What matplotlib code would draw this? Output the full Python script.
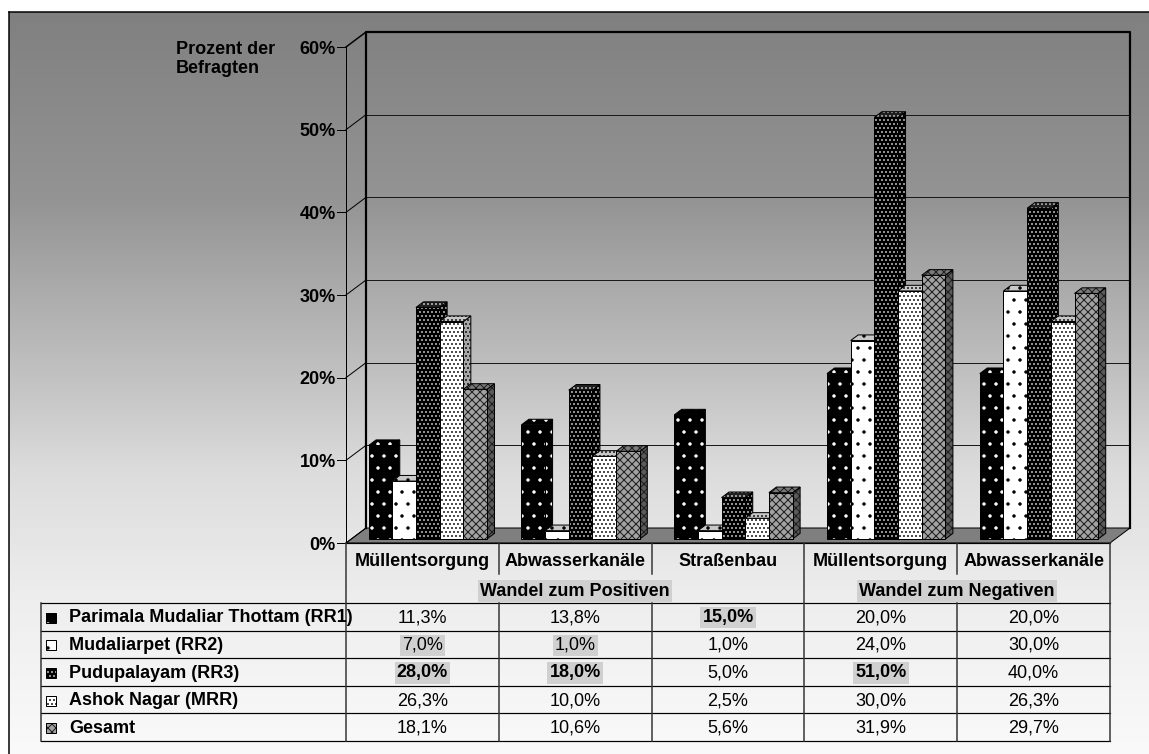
import numpy as np
import matplotlib
matplotlib.use("Agg")
import matplotlib.pyplot as plt
from matplotlib.patches import Polygon

# ---- data -----------------------------------------------------------------
categories = ["Müllentsorgung", "Abwasserkanäle", "Straßenbau",
              "Müllentsorgung", "Abwasserkanäle"]
groups = ["Wandel zum Positiven", "Wandel zum Negativen"]
group_sizes = [3, 2]
series_names = ["Parimala Mudaliar Thottam (RR1)", "Mudaliarpet (RR2)",
                "Pudupalayam (RR3)", "Ashok Nagar (MRR)", "Gesamt"]
rr1 = [11.3, 13.8, 15.0, 20.0, 20.0]
rr2 = [7.0, 1.0, 1.0, 24.0, 30.0]
rr3 = [28.0, 18.0, 5.0, 51.0, 40.0]
mrr = [26.3, 10.0, 2.5, 30.0, 26.3]
gesamt = [18.1, 10.6, 5.6, 31.9, 29.7]
y_ticks = [0, 10, 20, 30, 40, 50, 60]
y_title = "Prozent der\nBefragten"

# emphasis of single cells in the data table (row, column)
bold_cells = [(0, 2), (2, 0), (2, 1), (2, 3)]
shaded_cells = [(0, 2), (1, 0), (1, 1), (2, 0), (2, 1), (2, 3)]

series = [rr1, rr2, rr3, mrr, gesamt]

# ---- styles ---------------------------------------------------------------
styles = [
    dict(fc="black", hatch=".", hc="white", top="black", side="black"),
    dict(fc="white", hatch=".", hc="black", top="#c8c8c8", side="#a8a8a8"),
    dict(fc="black", hatch="...", hc="#d0d0d0", top="#202020", side="black"),
    dict(fc="white", hatch="...", hc="black", top="#c8c8c8", side="#a8a8a8"),
    dict(fc="#a2a2a2", hatch="xxx", hc="#1e1e1e", top="#7a7a7a",
         side="#5a5a5a"),
]

W, H, DPI = 1149, 754, 72
FS = 18
plt.rcParams["font.family"] = ["Liberation Sans", "DejaVu Sans"]
plt.rcParams["hatch.linewidth"] = 1.0

fig = plt.figure(figsize=(W / DPI, H / DPI), dpi=DPI)

# value / category scale of the front plane of the chart
X0, X1, Y0, Y1 = 346, 1110, 543, 47
ax = fig.add_axes([X0 / W, (H - Y0) / H, (X1 - X0) / W, (Y0 - Y1) / H])
ax.set_xlim(0, len(categories))
ax.set_ylim(y_ticks[0], y_ticks[-1])
ax.axis("off")

# drawing layer in pixel units (y downwards)
pa = fig.add_axes([0, 0, 1, 1], zorder=5)
pa.axis("off")

DX, DY = 20, 15          # depth of the 3-D box
F0, F1 = 0.27, 0.645     # depth range occupied by the bars
BW = 0.155               # bar width in category units


def px(x, y, depth=0.0):
    dx, dy = ax.transData.transform((x, y))
    return dx + depth * DX, H - dy - depth * DY


# background gradient inside the frame
ys = np.array([12, 200, 400, 470, 600, 754])
gv = np.array([128, 148, 200, 220, 238, 250]) / 255
g = np.interp(np.arange(12, H + 3), ys, gv)
img = np.dstack([np.repeat(g[:, None], 2, axis=1)] * 3)
pa.imshow(img, extent=(9, W + 3, H + 3, 12), aspect="auto", zorder=0,
          interpolation="bilinear")
pa.plot([9, 9], [H + 3, 12], color="black", lw=1.5, zorder=1)
pa.plot([9, W + 3], [12, 12], color="black", lw=1.5, zorder=1)
pa.set_xlim(0, W)
pa.set_ylim(H, 0)

ncat = len(categories)

# floor
floor = [px(0, 0, 0), px(ncat, 0, 0), px(ncat, 0, 1), px(0, 0, 1)]
pa.add_patch(Polygon(floor, closed=True, facecolor="#7f7f7f",
                     edgecolor="black", lw=1, zorder=2))

# side wall, back wall grid, ticks and labels
for t in y_ticks:
    a = px(0, t, 0)
    b = px(0, t, 1)
    pa.plot([a[0], b[0]], [a[1], b[1]], color="black",
            lw=1.5 if t == y_ticks[-1] else 1, zorder=3)
    if y_ticks[0] < t < y_ticks[-1]:
        c = px(ncat, t, 1)
        pa.plot([b[0], c[0]], [b[1], c[1]], color="#1a1a1a", lw=1, zorder=3)
    pa.plot([a[0] - 9, a[0]], [a[1], a[1]], color="black", lw=1, zorder=3)
    pa.text(a[0] - 10, a[1] + 2, f"{t}%", ha="right", va="center",
            fontsize=FS, fontweight="bold", zorder=3)

back = [px(0, 0, 1), px(0, y_ticks[-1], 1), px(ncat, y_ticks[-1], 1),
        px(ncat, 0, 1)]
pa.plot([p[0] for p in back], [p[1] for p in back], color="black", lw=2.2,
        zorder=3)
fa, fb = px(0, 0), px(0, y_ticks[-1])
pa.plot([fa[0], fb[0]], [fa[1], fb[1]], color="black", lw=1, zorder=3)

pa.text(176, 41, y_title, ha="left", va="top", fontsize=FS,
        fontweight="bold", linespacing=1.12, zorder=3)


def face(poly, fc, hatch, hc, z):
    pa.add_patch(Polygon(poly, closed=True, facecolor=fc, edgecolor=hc,
                         hatch=hatch, lw=0, zorder=z))
    pa.add_patch(Polygon(poly, closed=True, fill=False, edgecolor="black",
                         lw=1, zorder=z))


# bars
for i in range(ncat):
    for j, vals in enumerate(series):
        v = vals[i]
        st = styles[j]
        xl = i + 0.5 - 2.5 * BW + j * BW
        xr = xl + BW
        front = [px(xl, 0, F0), px(xr, 0, F0), px(xr, v, F0), px(xl, v, F0)]
        top = [px(xl, v, F0), px(xr, v, F0), px(xr, v, F1), px(xl, v, F1)]
        side = [px(xr, 0, F0), px(xr, 0, F1), px(xr, v, F1), px(xr, v, F0)]
        face(side, st["side"], st["hatch"], st["hc"], 4)
        face(front, st["fc"], st["hatch"], st["hc"], 4)
        face(top, st["top"], st["hatch"], st["hc"], 4)

# ---- data table -----------------------------------------------------------
col_x = [px(i, 0)[0] for i in range(ncat + 1)]
y_front = px(0, 0)[1]
T_LEFT = 41
ROW_TOP = 603
ROW_H = 27.6
nrows = len(series)
row_lines = [ROW_TOP + k * ROW_H for k in range(nrows + 1)]
T_BOTTOM = row_lines[-1]

line_kw = dict(color="black", lw=1.2, zorder=6)
pa.plot([col_x[0], col_x[-1]], [y_front, y_front], **line_kw)
for yl in row_lines:
    pa.plot([T_LEFT, col_x[-1]], [yl, yl], **line_kw)
pa.plot([T_LEFT, T_LEFT], [ROW_TOP, T_BOTTOM], color="#333333", lw=1.5,
        zorder=6)

group_edges = np.cumsum([0] + group_sizes)
for i, xc in enumerate(col_x):
    if i in group_edges:
        pa.plot([xc, xc], [y_front, T_BOTTOM], color="#333333", lw=1.5,
                zorder=6)
    else:
        pa.plot([xc, xc], [y_front, y_front + 31], color="#333333", lw=1.5,
                zorder=6)
        pa.plot([xc, xc], [ROW_TOP, T_BOTTOM], color="#333333", lw=1.5,
                zorder=6)

for i, name in enumerate(categories):
    xc = (col_x[i] + col_x[i + 1]) / 2
    pa.text(xc, y_front + 18, name, ha="center", va="center", fontsize=FS,
            fontweight="bold", zorder=7)

for g, (name, a0, a1) in enumerate(zip(groups, group_edges[:-1],
                                       group_edges[1:])):
    xc = (col_x[a0] + col_x[a1]) / 2
    pa.text(xc, y_front + 48, name, ha="center", va="center", fontsize=FS,
            fontweight="bold", zorder=7,
            bbox=dict(boxstyle="square,pad=0.12", fc="#d0d0d0", ec="none"))

for r, (name, vals) in enumerate(zip(series_names, series)):
    yc = row_lines[r] + ROW_H / 2 + 1
    st = styles[r]
    k = 10
    key = [(46, yc - k / 2), (46 + k, yc - k / 2), (46 + k, yc + k / 2),
           (46, yc + k / 2)]
    face(key, st["fc"], st["hatch"], st["hc"], 7)
    pa.text(69, yc, name, ha="left", va="center", fontsize=FS,
            fontweight="bold", zorder=7)
    for c, v in enumerate(vals):
        xc = (col_x[c] + col_x[c + 1]) / 2
        txt = f"{v:.1f}".replace(".", ",") + "%"
        kw = {}
        if (r, c) in shaded_cells:
            kw["bbox"] = dict(boxstyle="square,pad=0.12", fc="#d0d0d0",
                              ec="none")
        pa.text(xc, yc, txt, ha="center", va="center", fontsize=FS,
                fontweight="bold" if (r, c) in bold_cells else "normal",
                zorder=7, **kw)

fig.savefig("out.png", dpi=DPI)
